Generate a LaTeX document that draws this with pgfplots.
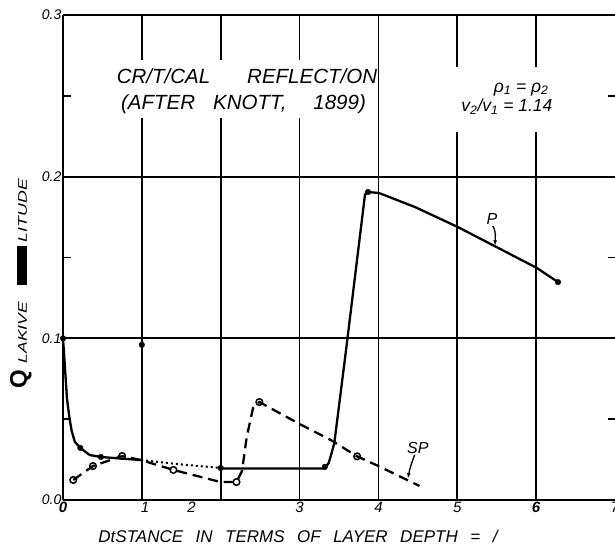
\documentclass[border=0pt]{standalone}
\usepackage{pgfplots}
\pgfplotsset{compat=1.18}
\usepackage{fontspec}
\setmainfont{Liberation Sans}
\usetikzlibrary{arrows.meta}

\begin{document}
\begin{tikzpicture}
\path[use as bounding box] (-63pt,-48pt) rectangle (552pt,500pt);
\begin{axis}[
    at={(0,0)}, anchor=south west,
    scale only axis,
    width=552pt, height=485pt,
    xmin=0, xmax=7, ymin=0, ymax=0.3,
    axis x line*=bottom, axis y line*=left,
    axis line style={line width=2.6pt, -},
    xtick={0,1,2,3,4,5,6},
    xticklabels={\textbf{0},,,3,4,5,\textbf{6}},
    extra x ticks={1.04,1.63,7},
    extra x tick labels={1,2,7},
    extra x tick style={grid=none},
    ytick={0,0.1,0.2,0.3},
    yticklabels={0.0,0.1,0.2,0.3},
    minor ytick={0.05,0.15,0.25},
    major tick length=0pt,
    minor tick length=8pt,
    tick align=inside,
    tick style={line width=1.8pt, black},
    grid=major,
    grid style={line width=1.8pt, black},
    major grid style={line width=1.8pt, black},
    xticklabel style={font=\fontsize{15}{15}\selectfont\itshape, inner sep=2pt},
    yticklabel style={font=\fontsize{14}{14}\selectfont\itshape, inner sep=1.5pt},
    clip=false,
]

% heavier top border
\draw[line width=2.6pt] (axis cs:0,0.3) -- (axis cs:7,0.3);

% P, solid / dotted / solid
\addplot[black, line width=2.3pt] coordinates {
    (0,0.1) (0.01,0.093) (0.05,0.063) (0.08,0.0513) (0.11,0.0427) (0.15,0.036)
    (0.22,0.0322) (0.34,0.0278) (0.48,0.0266) (0.99,0.0247)
};
\addplot[black, line width=2pt, dash pattern=on 2pt off 3pt] coordinates {
    (0.99,0.0247) (1.5,0.022) (2.0,0.0198)
};
\addplot[black, line width=2.3pt] coordinates {
    (2.0,0.0195) (3.32,0.0195) (3.37,0.023) (3.40,0.028) (3.44,0.035)
    (3.59,0.093) (3.83,0.189) (3.868,0.1905) (4.007,0.1899) (4.464,0.1812)
    (5.009,0.1688) (6.01,0.1435) (6.277,0.1348)
};
\addplot[only marks, mark=*, mark size=2.8pt, black] coordinates {
    (0,0.1) (0.22,0.0322) (0.48,0.0266) (2.0,0.0198) (3.32,0.0205)
    (3.868,0.1905) (6.277,0.1348)
};

% SP, dashed
\addplot[black, line width=2.3pt, dash pattern=on 10pt off 6pt] coordinates {
    (0.13,0.0124) (0.38,0.021) (0.75,0.0272) (0.99,0.0247) (1.4,0.0186)
    (2.0,0.0111) (2.2,0.0111) (2.27,0.0179) (2.33,0.039) (2.41,0.0569)
    (2.49,0.0606) (3.0,0.047) (3.4,0.037) (3.73,0.027) (4.0,0.021) (4.52,0.0087)
};
\addplot[only marks, mark=o, mark size=3.3pt, black,
    mark options={fill=white, line width=1.5pt}] coordinates {
    (0.13,0.0124) (0.38,0.021) (0.75,0.0272) (1.4,0.0186) (2.2,0.0111)
    (2.49,0.0606) (3.73,0.027)
};

% stray mark on the x = 1 line
\addplot[black, line width=2.4pt] coordinates {(1,0.096) (1,0.183)};
\addplot[only marks, mark=*, mark size=2.8pt, black] coordinates {(1,0.096)};

% right edge ticks
\draw[line width=1.8pt] (axis cs:7,0.05) -- ++(-7pt,0);
\draw[line width=1.8pt] (axis cs:7,0.15) -- ++(-7pt,0);
\draw[line width=1.8pt] (axis cs:7,0.25) -- ++(-7pt,0);

% title
\fill[white] (axis cs:0.9,0.2362) rectangle (axis cs:3.5,0.2721);
\node[anchor=base, inner sep=0, font=\fontsize{20.5}{20}\selectfont\itshape]
    at (axis cs:2.333,0.2579) {CR/T/CAL\hspace{37pt}REFLECT/ON};
\node[anchor=base, inner sep=0, font=\fontsize{20.5}{20}\selectfont\itshape]
    at (axis cs:2.289,0.2418) {(AFTER\hspace{18pt}KNOTT,\hspace{27pt}1899)};

\fill[white] (axis cs:4.9,0.2276) rectangle (axis cs:6.1,0.268);
\node[anchor=base, inner sep=0, font=\fontsize{17.5}{17}\selectfont\itshape]
    at (axis cs:5.81,0.2523) {ρ\textsubscript{1} = ρ\textsubscript{2}};
\node[anchor=base, inner sep=0, font=\fontsize{17.5}{17}\selectfont\itshape]
    at (axis cs:5.63,0.240) {v\textsubscript{2}/v\textsubscript{1} = 1.14};

% curve labels
\node[anchor=south, inner sep=0, font=\fontsize{16}{16}\selectfont\itshape]
    at (axis cs:5.44,0.170) {P};
\draw[line width=1.3pt, -{Latex[length=5pt,width=4pt]}]
    (axis cs:5.45,0.1695) to[out=-60, in=90] (axis cs:5.48,0.1575);
\node[anchor=south, inner sep=0, font=\fontsize{16}{16}\selectfont\itshape]
    at (axis cs:4.50,0.0285) {SP};
\draw[line width=1.3pt, -{Latex[length=5pt,width=4pt]}]
    (axis cs:4.46,0.0280) to[out=-110, in=80] (axis cs:4.375,0.0135);

% axis titles
\node[anchor=base, inner sep=0, font=\fontsize{17}{17}\selectfont\itshape]
    at ([yshift=-42pt]axis cs:2.98,0)
    {DtSTANCE\hspace{12.5pt}IN\hspace{12.5pt}TERMS\hspace{12.5pt}OF\hspace{12.5pt}LAYER\hspace{12.5pt}DEPTH\hspace{12.5pt}=\hspace{12.5pt}/};
\node[rotate=90, anchor=base, inner sep=0, font=\fontsize{12.5}{12.5}\selectfont\itshape]
    at ([xshift=-36pt]axis cs:0,0.1339)
    {{\fontsize{24}{24}\selectfont\bfseries\upshape Q}\hspace{6pt}\scalebox{1.4}[1]{LAKIVE}\hspace{17pt}\rule{39pt}{10pt}\hspace{4pt}\scalebox{1.42}[1]{LITUDE}};

\end{axis}
\end{tikzpicture}
\end{document}
